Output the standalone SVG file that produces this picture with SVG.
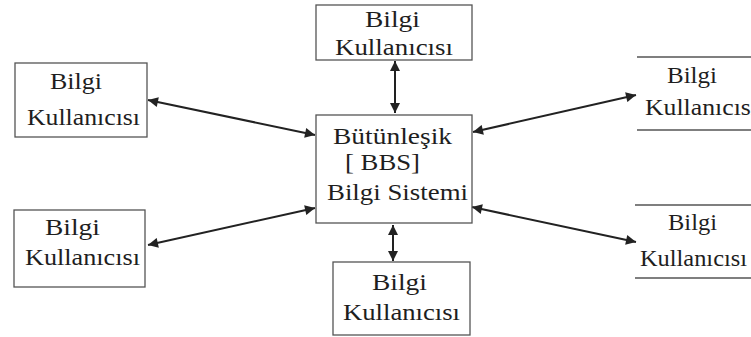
<svg xmlns="http://www.w3.org/2000/svg" width="751" height="337" viewBox="0 0 751 337">
<style>
.box{fill:none;stroke:#555;stroke-width:1.3}
.edge{fill:none;stroke:#555;stroke-width:1.3}
.c{fill:none;stroke:#222;stroke-width:2}
</style>
<defs>
<marker id="ah" viewBox="0 0 10 10" refX="10" refY="5" markerWidth="6" markerHeight="5" orient="auto-start-reverse" markerUnits="strokeWidth">
<path d="M0,0 L10,5 L0,10 z" fill="#222"/>
</marker>
</defs>
<rect width="751" height="337" fill="#fff"/>
<g id="connectors">
<line class="c" x1="148" y1="100" x2="315" y2="135" marker-start="url(#ah)" marker-end="url(#ah)"/>
<line class="c" x1="148" y1="245" x2="315" y2="208" marker-start="url(#ah)" marker-end="url(#ah)"/>
<line class="c" x1="395" y1="61" x2="395" y2="113" marker-start="url(#ah)" marker-end="url(#ah)"/>
<line class="c" x1="393" y1="225" x2="393" y2="261" marker-start="url(#ah)" marker-end="url(#ah)"/>
<line class="c" x1="473" y1="132" x2="636" y2="95" marker-start="url(#ah)" marker-end="url(#ah)"/>
<line class="c" x1="472" y1="207" x2="636" y2="242" marker-start="url(#ah)" marker-end="url(#ah)"/>
</g>
<g font-family="Liberation Serif, DejaVu Serif, serif" font-size="23" fill="#1e1e1e">
<g id="center">
<rect class="box" x="316" y="115" width="156" height="108"/>
<text x="333" y="144" textLength="119" lengthAdjust="spacingAndGlyphs">Bütünleşik</text>
<text x="345" y="170" textLength="75" lengthAdjust="spacingAndGlyphs">[ BBS]</text>
<text x="327" y="200" textLength="141" lengthAdjust="spacingAndGlyphs">Bilgi Sistemi</text>
</g>
<g id="topLeft">
<rect class="box" x="15" y="63" width="132" height="74"/>
<text x="50" y="89" textLength="52" lengthAdjust="spacingAndGlyphs">Bilgi</text>
<text x="27" y="125" textLength="113" lengthAdjust="spacingAndGlyphs">Kullanıcısı</text>
</g>
<g id="top">
<rect class="box" x="316" y="5" width="156" height="55"/>
<text x="365" y="27" textLength="55" lengthAdjust="spacingAndGlyphs">Bilgi</text>
<text x="335" y="55" textLength="118" lengthAdjust="spacingAndGlyphs">Kullanıcısı</text>
</g>
<g id="topRight">
<line class="edge" x1="637" y1="57" x2="751" y2="57"/>
<line class="edge" x1="637" y1="130" x2="751" y2="130"/>
<text x="667" y="83" textLength="50" lengthAdjust="spacingAndGlyphs">Bilgi</text>
<text x="645" y="115" textLength="113" lengthAdjust="spacingAndGlyphs">Kullanıcısı</text>
</g>
<g id="bottomLeft">
<rect class="box" x="14" y="210" width="131" height="77"/>
<text x="45" y="235" textLength="55" lengthAdjust="spacingAndGlyphs">Bilgi</text>
<text x="25" y="265" textLength="115" lengthAdjust="spacingAndGlyphs">Kullanıcısı</text>
</g>
<g id="bottomRight">
<line class="edge" x1="635" y1="205" x2="751" y2="205"/>
<line class="edge" x1="635" y1="278" x2="751" y2="278"/>
<text x="668" y="230" textLength="49" lengthAdjust="spacingAndGlyphs">Bilgi</text>
<text x="640" y="266" textLength="107" lengthAdjust="spacingAndGlyphs">Kullanıcısı</text>
</g>
<g id="bottom">
<rect class="box" x="333" y="262" width="137" height="73"/>
<text x="372" y="290" textLength="55" lengthAdjust="spacingAndGlyphs">Bilgi</text>
<text x="343" y="320" textLength="117" lengthAdjust="spacingAndGlyphs">Kullanıcısı</text>
</g>
</g>
</svg>
